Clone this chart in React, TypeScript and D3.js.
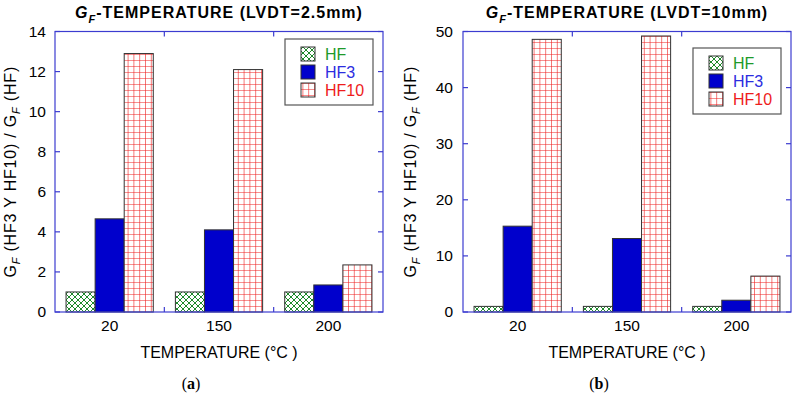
import React from "react";
import * as d3 from "d3";

const categories = ["20", "150", "200"];
const seriesNames = ["HF", "HF3", "HF10"];
const seriesColors = ["#1e9a2a", "#2c2ce0", "#ee1c1c"];

const hfA = [1, 1, 1];
const hf3A = [4.65, 4.1, 1.35];
const hf10A = [12.9, 12.1, 2.35];
const yTicksA = [0, 2, 4, 6, 8, 10, 12, 14];

const hfB = [1, 1, 1];
const hf3B = [15.3, 13.1, 2.1];
const hf10B = [48.6, 49.2, 6.4];
const yTicksB = [0, 10, 20, 30, 40, 50];

const FONT = "'Liberation Sans', Arial, sans-serif";
const AXIS = "#3c3cd0";
const fills = ["url(#patHF)", "#0000cc", "url(#patHF10)"];

type PanelProps = {
  x0: number;
  x1: number;
  yMax: number;
  yTicks: number[];
  series: number[][];
  title: string;
  tag: string;
  legendX: number;
  legendY: number;
  tickLabelEnd: number;
  yLabelX: number;
};

function Panel(p: PanelProps) {
  const yTop = 31.5;
  const yBot = 312;
  const x = d3.scaleBand<string>().domain(categories).range([p.x0, p.x1]).padding(0);
  const xs = d3
    .scaleBand<string>()
    .domain(seriesNames)
    .range([0, x.bandwidth()])
    .paddingInner(0)
    .paddingOuter(0.38);
  const y = d3.scaleLinear().domain([0, p.yMax]).range([yBot, yTop]);
  const cx = (p.x0 + p.x1) / 2;
  const boundaries = categories.slice(1).map((c) => x(c) as number);
  return (
    <g>
      {/* title */}
      <text x={cx} y={18} textAnchor="middle" fontFamily={FONT} fontWeight="bold" fontSize={16} letterSpacing={1}>
        <tspan fontStyle="italic">G</tspan>
        <tspan fontStyle="italic" fontSize={11} dy={5}>F</tspan>
        <tspan dy={-5}>-TEMPERATURE (LVDT={p.title})</tspan>
      </text>
      {/* bars */}
      {categories.map((c, i) => (
        <g key={c}>
          {seriesNames.map((s, j) => {
            const v = p.series[j][i];
            const bx = (x(c) as number) + (xs(s) as number);
            return (
              <rect
                key={s}
                x={bx}
                y={y(v)}
                width={xs.bandwidth()}
                height={yBot - y(v)}
                fill={fills[j]}
                stroke="#333"
                strokeWidth={1}
              />
            );
          })}
        </g>
      ))}
      {/* frame */}
      <rect x={p.x0} y={yTop} width={p.x1 - p.x0} height={yBot - yTop} fill="none" stroke={AXIS} strokeWidth={1.2} />
      {/* y ticks */}
      {p.yTicks.map((t) => (
        <g key={t}>
          <line x1={p.x0} x2={p.x0 + 5} y1={y(t)} y2={y(t)} stroke={AXIS} strokeWidth={1.2} />
          <line x1={p.x1} x2={p.x1 - 5} y1={y(t)} y2={y(t)} stroke={AXIS} strokeWidth={1.2} />
          <text x={p.tickLabelEnd} y={y(t) + 5} textAnchor="end" fontFamily={FONT} fontSize={15.5}>
            {t}
          </text>
        </g>
      ))}
      {/* x boundary ticks */}
      {boundaries.map((b, i) => (
        <g key={i}>
          <line x1={b} x2={b} y1={yBot} y2={yBot - 5} stroke={AXIS} strokeWidth={1.2} />
          <line x1={b} x2={b} y1={yTop} y2={yTop + 5} stroke={AXIS} strokeWidth={1.2} />
        </g>
      ))}
      {/* x labels */}
      {categories.map((c) => (
        <text key={c} x={(x(c) as number) + x.bandwidth() / 2} y={331} textAnchor="middle" fontFamily={FONT} fontSize={15.5}>
          {c}
        </text>
      ))}
      <text x={cx} y={358} textAnchor="middle" fontFamily={FONT} fontSize={16}>
        TEMPERATURE (°C )
      </text>
      {/* y label */}
      <text
        transform={`translate(${p.yLabelX},${(yTop + yBot) / 2}) rotate(-90)`}
        textAnchor="middle"
        fontFamily={FONT}
        fontSize={16}
        letterSpacing={0.8}
      >
        <tspan>G</tspan>
        <tspan fontSize={11} fontStyle="italic" dy={4}>F</tspan>
        <tspan dy={-4}> (HF3 Y HF10) / G</tspan>
        <tspan fontSize={11} fontStyle="italic" dy={4}>F</tspan>
        <tspan dy={-4}> (HF)</tspan>
      </text>
      {/* tag */}
      <text x={cx - 28} y={389} textAnchor="middle" fontFamily="'Liberation Serif', 'Times New Roman', serif" fontSize={16}>
        (<tspan fontWeight="bold">{p.tag}</tspan>)
      </text>
      {/* legend */}
      <g transform={`translate(${p.legendX},${p.legendY})`}>
        <rect x={0} y={0} width={88} height={66} fill="white" stroke="#555" strokeWidth={1.2} />
        {seriesNames.map((s, j) => (
          <g key={s} transform={`translate(0,${8 + j * 18})`}>
            <rect x={16} y={0} width={14} height={14} fill={fills[j]} stroke="#333" strokeWidth={1} />
            <text x={40} y={13} fontFamily={FONT} fontSize={16} fill={seriesColors[j]}>
              {s}
            </text>
          </g>
        ))}
      </g>
    </g>
  );
}

export default function App() {
  return (
    <svg width={796} height={400} style={{ position: "absolute", left: 0, top: 0, background: "white" }}>
      <defs>
        <pattern id="patHF" patternUnits="userSpaceOnUse" width={6} height={6}>
          <rect width={6} height={6} fill="white" />
          <path d="M0,0 L6,6 M6,0 L0,6" stroke="#1e8a2a" strokeWidth={1} />
        </pattern>
        <pattern id="patHF10" patternUnits="userSpaceOnUse" width={5.8} height={6}>
          <rect width={5.8} height={6} fill="white" />
          <path d="M0,0 L5.8,0 M0,0 L0,6" stroke="#ee2020" strokeWidth={1.2} />
        </pattern>
      </defs>
      <Panel
        x0={55}
        x1={383}
        yMax={14}
        yTicks={yTicksA}
        series={[hfA, hf3A, hf10A]}
        title="2.5mm"
        tag="a"
        legendX={285}
        legendY={39}
        tickLabelEnd={46}
        yLabelX={16}
      />
      <Panel
        x0={463}
        x1={791}
        yMax={50}
        yTicks={yTicksB}
        series={[hfB, hf3B, hf10B]}
        title="10mm"
        tag="b"
        legendX={693}
        legendY={48}
        tickLabelEnd={453}
        yLabelX={416}
      />
    </svg>
  );
}
